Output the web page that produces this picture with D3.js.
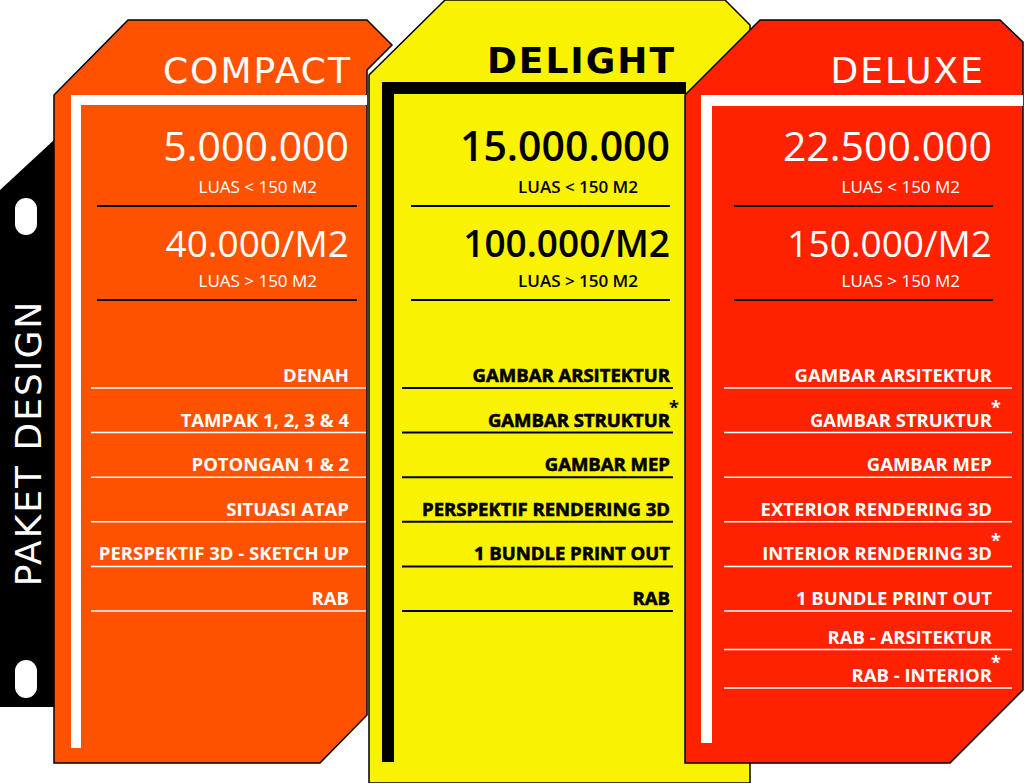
<!DOCTYPE html>
<html>
<head>
<meta charset="utf-8">
<script src="https://cdn.jsdelivr.net/npm/d3@7"></script>
<style>
  body { margin: 0; background: #fff; }
  svg { display: block; }
  .title { font-family: "DejaVu Sans", sans-serif; letter-spacing: 2px; }
  .txt { font-family: "Open Sans", "Noto Sans", sans-serif; }
</style>
</head>
<body>
<div id="chart"></div>
<script>
// paket data
var packages    = ["COMPACT", "DELIGHT", "DELUXE"];
var basePrices  = ["5.000.000", "15.000.000", "22.500.000"];
var perM2Prices = ["40.000/M2", "100.000/M2", "150.000/M2"];
var smallLabel  = "LUAS < 150 M2";
var largeLabel  = "LUAS > 150 M2";
var compactItems = ["DENAH", "TAMPAK 1, 2, 3 & 4", "POTONGAN 1 & 2", "SITUASI ATAP", "PERSPEKTIF 3D - SKETCH UP", "RAB"];
var delightItems = ["GAMBAR ARSITEKTUR", "GAMBAR STRUKTUR*", "GAMBAR MEP", "PERSPEKTIF RENDERING 3D", "1 BUNDLE PRINT OUT", "RAB"];
var deluxeItems  = ["GAMBAR ARSITEKTUR", "GAMBAR STRUKTUR*", "GAMBAR MEP", "EXTERIOR RENDERING 3D", "INTERIOR RENDERING 3D*", "1 BUNDLE PRINT OUT", "RAB - ARSITEKTUR", "RAB - INTERIOR*"];
var sideLabel = "PAKET DESIGN";

var width = 1024, height = 783;
var svg = d3.select("#chart").append("svg")
    .attr("width", width)
    .attr("height", height);

// row position per item index (piecewise, last rows of deluxe are tighter)
var rowY = d3.scaleLinear().domain([0, 5, 7]).range([388, 611, 688]);

//side tab
svg.append("path")
    .attr("d", "M0,190 L54,140 L54,707 L0,707 Z")
    .attr("fill", "#000");
svg.append("rect").attr("x", 15).attr("y", 198).attr("width", 22).attr("height", 37).attr("rx", 11).attr("fill", "#fff");
svg.append("rect").attr("x", 15).attr("y", 660).attr("width", 22).attr("height", 38).attr("rx", 11).attr("fill", "#fff");
svg.append("text")
    .attr("class", "title")
    .attr("transform", "translate(41,443) rotate(-90)")
    .attr("text-anchor", "middle")
    .attr("fill", "#fff")
    .attr("font-size", 36)
    .attr("letter-spacing", 5)
    .text(sideLabel);

var panels = [
    { shape: "M54,95 L128,20 L367,20 L392,45 L367,70 L367,715 L320,763 L54,763 Z",
      fill: "#FF5200", ink: "#fff", rule: "#000", itemRule: "#fff", border: "#fff",
      bx: 71, by: 95, bw: 10, bEndX: 367, bEndY: 748,
      right: 349, titleRight: 352, ruleX: [97, 357], itemX: [91, 366], items: compactItems, bold: false },
    { shape: "M369,75 L445,0 L725,0 L750,25 L750,783 L369,783 Z",
      fill: "#F9F200", ink: "#000", rule: "#000", itemRule: "#000", border: "#000",
      bx: 382, by: 82, bw: 12, bEndX: 686, bEndY: 762,
      right: 670, titleRight: 676, ruleX: [411, 670], itemX: [402, 673], items: delightItems, bold: true, titleY: 73 },
    { shape: "M685,95 L760,20 L1000,20 L1023,42 L1023,690 L950,763 L685,763 Z",
      fill: "#FF2200", ink: "#fff", rule: "#000", itemRule: "#fff", border: "#fff",
      bx: 701, by: 95, bw: 11, bEndX: 1023, bEndY: 743,
      right: 992, titleRight: 985, ruleX: [734, 993], itemX: [724, 1012], items: deluxeItems, bold: false }
];

panels.forEach(function (p, i) {
    var g = svg.append("g");
    g.append("path").attr("d", p.shape).attr("fill", p.fill)
        .attr("stroke", "#000").attr("stroke-width", 1.5);
    // L border
    g.append("rect").attr("x", p.bx).attr("y", p.by).attr("width", p.bw).attr("height", p.bEndY - p.by).attr("fill", p.border);
    g.append("rect").attr("x", p.bx).attr("y", p.by).attr("width", p.bEndX - p.bx).attr("height", p.bw).attr("fill", p.border);

    g.append("text").attr("class", "title")
        .attr("x", p.titleRight).attr("y", p.titleY || 83)
        .attr("text-anchor", "end").attr("fill", p.ink)
        .attr("font-size", 36).attr("font-weight", p.bold ? 700 : 400)
        .text(packages[i]);

    var fw = p.bold ? 600 : 400;
    g.append("text").attr("class", "txt").attr("x", p.right).attr("y", 161)
        .attr("text-anchor", "end").attr("fill", p.ink).attr("font-size", 41).attr("font-weight", fw)
        .text(basePrices[i]);
    g.append("text").attr("class", "txt").attr("x", p.right - 32).attr("y", 193)
        .attr("text-anchor", "end").attr("fill", p.ink).attr("font-size", 17).attr("font-weight", fw)
        .text(smallLabel);
    g.append("line").attr("x1", p.ruleX[0]).attr("x2", p.ruleX[1]).attr("y1", 206).attr("y2", 206)
        .attr("stroke", p.rule).attr("stroke-width", 2);
    g.append("text").attr("class", "txt").attr("x", p.right).attr("y", 257)
        .attr("text-anchor", "end").attr("fill", p.ink).attr("font-size", 37).attr("font-weight", fw)
        .text(perM2Prices[i]);
    g.append("text").attr("class", "txt").attr("x", p.right - 32).attr("y", 287)
        .attr("text-anchor", "end").attr("fill", p.ink).attr("font-size", 17).attr("font-weight", fw)
        .text(largeLabel);
    g.append("line").attr("x1", p.ruleX[0]).attr("x2", p.ruleX[1]).attr("y1", 300).attr("y2", 300)
        .attr("stroke", p.rule).attr("stroke-width", 2);

    var rows = g.selectAll("g.row").data(p.items).enter().append("g").attr("class", "row");
    rows.append("line")
        .attr("x1", p.itemX[0]).attr("x2", p.itemX[1])
        .attr("y1", function (d, j) { return rowY(j); })
        .attr("y2", function (d, j) { return rowY(j); })
        .attr("stroke", p.itemRule).attr("stroke-width", p.bold ? 2 : 1.5);
    var t = rows.append("text").attr("class", "txt")
        .attr("x", p.right)
        .attr("y", function (d, j) { return rowY(j) - 6; })
        .attr("text-anchor", "end").attr("fill", p.ink)
        .attr("font-size", 18.5).attr("font-weight", 700)
        .text(function (d) { return d.replace("*", ""); });
    if (p.bold) t.attr("stroke", "#000").attr("stroke-width", 0.6);
    rows.filter(function (d) { return d.indexOf("*") >= 0; })
        .append("text").attr("class", "txt")
        .attr("x", p.right - 1)
        .attr("y", function (d) { return rowY(p.items.indexOf(d)) - 19; })
        .attr("fill", p.ink).attr("font-size", 18).attr("font-weight", 700)
        .text("*");
});
</script>
</body>
</html>
